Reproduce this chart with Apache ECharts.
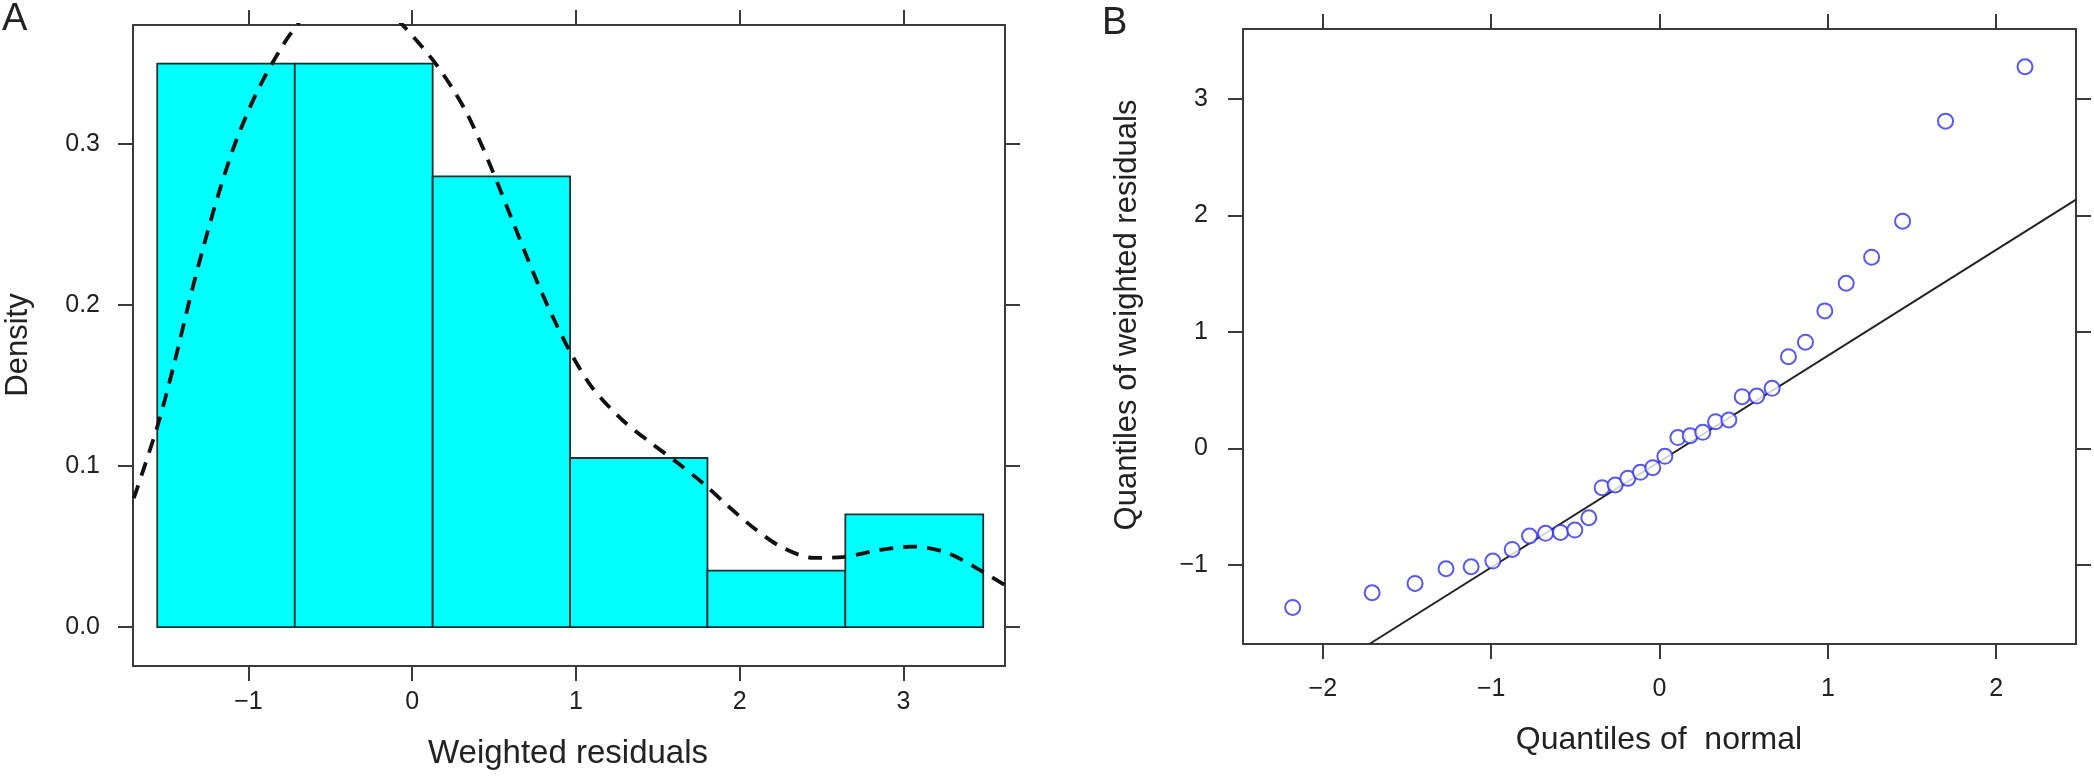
<!DOCTYPE html>
<html>
<head>
<meta charset="utf-8">
<script src="https://cdn.jsdelivr.net/npm/echarts@6/dist/echarts.min.js"></script>
<style>
html,body{margin:0;padding:0;background:#fff;}
#chart{width:2094px;height:776px;}
</style>
</head>
<body>
<div id="chart"></div>
<script>
// ---------- Panel A: histogram of weighted residuals ----------
const binEdges = [-1.557, -0.717, 0.125, 0.964, 1.803, 2.645, 3.487];
const binDensity = [0.350, 0.350, 0.280, 0.105, 0.035, 0.070];
const densityX = [-1.70, -1.555, -1.45, -1.36, -1.27, -1.18, -1.09, -0.995, -0.90, -0.81, -0.74,
  -0.60, -0.40, -0.20, -0.04, 0.128, 0.25, 0.34, 0.43, 0.52, 0.61, 0.70, 0.79, 0.885, 0.975,
  1.105, 1.29, 1.45, 1.62, 1.78, 1.92, 2.08, 2.25, 2.45, 2.63, 2.86, 3.06, 3.27, 3.49, 3.62];
const densityY = [0.080, 0.125, 0.165, 0.203, 0.238, 0.270, 0.298, 0.322, 0.342, 0.358, 0.369,
  0.386, 0.394, 0.388, 0.372, 0.352, 0.334, 0.318, 0.298, 0.276, 0.253, 0.230, 0.208, 0.187, 0.169,
  0.148, 0.128, 0.115, 0.102, 0.089, 0.076, 0.062, 0.050, 0.043, 0.0435, 0.048, 0.050, 0.046, 0.034, 0.026];
const ticksAX = [-1, 0, 1, 2, 3];
const ticksAY = [0, 0.1, 0.2, 0.3];

// ---------- Panel B: normal Q-Q plot ----------
const qqX = [-2.179, -1.707, -1.452, -1.268, -1.119, -0.990, -0.875, -0.772, -0.677, -0.588,
  -0.503, -0.420, -0.341, -0.263, -0.188, -0.113, -0.040, 0.032, 0.109, 0.182,
  0.257, 0.333, 0.412, 0.491, 0.578, 0.669, 0.766, 0.867, 0.982, 1.109,
  1.260, 1.444, 1.699, 2.171];
const qqY = [-1.366, -1.240, -1.160, -1.034, -1.017, -0.968, -0.868, -0.753, -0.730, -0.722,
  -0.702, -0.596, -0.338, -0.315, -0.258, -0.206, -0.166, -0.069, 0.092, 0.108,
  0.137, 0.229, 0.243, 0.443, 0.449, 0.515, 0.787, 0.911, 1.180, 1.417,
  1.641, 1.950, 2.809, 3.276];
const qqLineX = [-1.723, 2.474];
const qqLineY = [-1.680, 2.135];
const ticksBX = [-2, -1, 0, 1, 2];
const ticksBY = [-1, 0, 1, 2, 3];

const AXC = '#3a3a3a';
const TXT = '#222222';
const FONT = 'Liberation Sans, Arial, Helvetica, sans-serif';
const minus = v => String(v).replace('-', '\u2212');

function axisCommon(extra) {
  return Object.assign({
    type: 'value',
    scale: false,
    axisLine: { show: true, onZero: false, lineStyle: { color: AXC, width: 2 } },
    splitLine: { show: false },
  }, extra);
}
function ticks(vals) {
  return { show: true, inside: false, length: 15, lineStyle: { color: AXC, width: 2 }, customValues: vals };
}

const densityData = densityX.map((x, i) => [x, densityY[i]]);
const binData = binDensity.map((d, i) => [binEdges[i], binEdges[i + 1], d]);
const qqData = qqX.map((x, i) => [x, qqY[i]]);
const qqLine = qqLineX.map((x, i) => [x, qqLineY[i]]);

const chart = echarts.init(document.getElementById('chart'), null, { renderer: 'canvas' });

const option = {
  backgroundColor: '#ffffff',
  animation: false,
  textStyle: { fontFamily: FONT },
  grid: [
    { left: 133, top: 25, width: 872, height: 641 },
    { left: 1243, top: 29, width: 833, height: 615 }
  ],
  xAxis: [
    axisCommon({ gridIndex: 0, position: 'bottom', min: -1.705, max: 3.62, axisTick: ticks(ticksAX),
      axisLabel: { show: true, customValues: ticksAX, margin: 24, fontSize: 25, color: TXT, fontFamily: FONT, formatter: minus } }),
    axisCommon({ gridIndex: 0, position: 'top', min: -1.705, max: 3.62, axisTick: ticks(ticksAX),
      axisLabel: { show: false } }),
    axisCommon({ gridIndex: 1, position: 'bottom', min: -2.474, max: 2.474, axisTick: ticks(ticksBX),
      axisLabel: { show: true, customValues: ticksBX, margin: 33, fontSize: 25, color: TXT, fontFamily: FONT, formatter: minus } }),
    axisCommon({ gridIndex: 1, position: 'top', min: -2.474, max: 2.474, axisTick: ticks(ticksBX),
      axisLabel: { show: false } })
  ],
  yAxis: [
    axisCommon({ gridIndex: 0, position: 'left', min: -0.0242, max: 0.374, axisTick: ticks(ticksAY),
      axisLabel: { show: true, customValues: ticksAY, margin: 33, fontSize: 25, color: TXT, fontFamily: FONT,
        formatter: v => Number(v).toFixed(1) } }),
    axisCommon({ gridIndex: 0, position: 'right', min: -0.0242, max: 0.374, axisTick: ticks(ticksAY),
      axisLabel: { show: false } }),
    axisCommon({ gridIndex: 1, position: 'left', min: -1.68, max: 3.60, axisTick: ticks(ticksBY),
      axisLabel: { show: true, customValues: ticksBY, margin: 35, fontSize: 25, color: TXT, fontFamily: FONT, formatter: minus } }),
    axisCommon({ gridIndex: 1, position: 'right', min: -1.68, max: 3.60, axisTick: ticks(ticksBY),
      axisLabel: { show: false } })
  ],
  series: [
    {
      type: 'custom',
      xAxisIndex: 0, yAxisIndex: 0,
      data: binData,
      clip: true,
      renderItem: function (params, api) {
        const p0 = api.coord([api.value(0), api.value(2)]);
        const p1 = api.coord([api.value(1), 0]);
        return {
          type: 'rect',
          shape: { x: p0[0], y: p0[1], width: p1[0] - p0[0], height: p1[1] - p0[1] },
          style: { fill: '#00ffff', stroke: '#1a3030', lineWidth: 1.8 }
        };
      },
      z: 2
    },
    {
      type: 'line',
      xAxisIndex: 0, yAxisIndex: 0,
      data: densityData,
      smooth: 0.3,
      showSymbol: false,
      clip: true,
      lineStyle: { color: '#111111', width: 3.8, type: [14, 10] },
      z: 3
    },
    {
      type: 'line',
      xAxisIndex: 2, yAxisIndex: 2,
      data: qqLine,
      showSymbol: false,
      clip: true,
      lineStyle: { color: '#222222', width: 2 },
      z: 2
    },
    {
      type: 'scatter',
      xAxisIndex: 2, yAxisIndex: 2,
      data: qqData,
      symbol: 'emptyCircle',
      symbolSize: 15,
      itemStyle: { color: '#2e2ef2', borderColor: '#2e2ef2', borderWidth: 2.2 },
      z: 3
    }
  ],
  graphic: [
    { type: 'text', left: 2, top: 1, style: { text: 'A', font: '38px ' + FONT, fill: TXT } },
    { type: 'text', left: 1102, top: 5, style: { text: 'B', font: '38px ' + FONT, fill: TXT } },
    { type: 'text', x: 18, y: 345, rotation: Math.PI / 2,
      style: { text: 'Density', font: '31px ' + FONT, fill: TXT, align: 'center', verticalAlign: 'middle' } },
    { type: 'text', x: 568, y: 754,
      style: { text: 'Weighted residuals', font: '33px ' + FONT, fill: TXT, align: 'center', verticalAlign: 'middle' } },
    { type: 'text', x: 1659, y: 740,
      style: { text: 'Quantiles of  normal', font: '32px ' + FONT, fill: TXT, align: 'center', verticalAlign: 'middle' } },
    { type: 'text', x: 1127, y: 315, rotation: Math.PI / 2,
      style: { text: 'Quantiles of weighted residuals', font: '31px ' + FONT, fill: TXT, align: 'center', verticalAlign: 'middle' } }
  ]
};

chart.setOption(option);
</script>
</body>
</html>
